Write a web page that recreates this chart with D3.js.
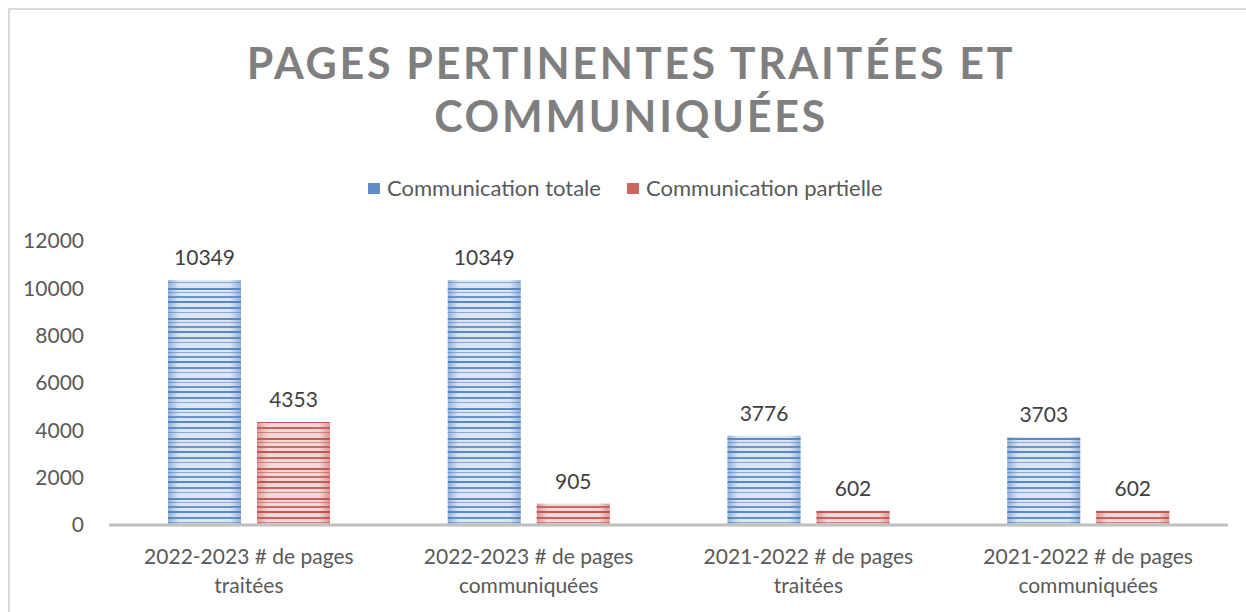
<!DOCTYPE html>
<html>
<head>
<meta charset="utf-8">
<script src="https://cdnjs.cloudflare.com/ajax/libs/d3/7.8.5/d3.min.js"></script>
<style>
  body { margin: 0; background: #fff; }
  svg { display: block; font-family: Lato, "Open Sans", sans-serif; }
</style>
</head>
<body>
<div id="chart"></div>
<script>
// data
var categories = [
    ["2022-2023 # de pages", "traitées"],
    ["2022-2023 # de pages", "communiquées"],
    ["2021-2022 # de pages", "traitées"],
    ["2021-2022 # de pages", "communiquées"]
];
var seriesNames = ["Communication totale", "Communication partielle"];
var totale = [10349, 10349, 3776, 3703];
var partielle = [4353, 905, 602, 602];
var yTicks = [0, 2000, 4000, 6000, 8000, 10000, 12000];
var titleLines = ["PAGES PERTINENTES TRAITÉES ET", "COMMUNIQUÉES"];

var width = 1246;
var height = 612;
var margin = { left: 109, right: 18, top: 241, bottom: 87 };

var svg = d3.select('#chart')
    .append('svg')
    .attr('width', width)
    .attr('height', height);

var defs = svg.append('defs');

// striped fills, darker at the bar edges
function makeFill(id, light, edge, stripe) {
    var g = defs.append('linearGradient')
        .attr('id', id + '-grad')
        .attr('x1', '0').attr('x2', '1').attr('y1', '0').attr('y2', '0');
    g.append('stop').attr('offset', '0%').attr('stop-color', edge);
    g.append('stop').attr('offset', '15%').attr('stop-color', light);
    g.append('stop').attr('offset', '85%').attr('stop-color', light);
    g.append('stop').attr('offset', '100%').attr('stop-color', edge);

    var p = defs.append('pattern')
        .attr('id', id + '-stripes')
        .attr('patternUnits', 'userSpaceOnUse')
        .attr('width', 10).attr('height', 30);
    [[0, 2, 0.95], [6, 2, 0.85], [11, 1, 0.6], [17, 2, 0.9], [21, 1, 0.6], [25, 2, 0.8]].forEach(function (s) {
        p.append('rect')
            .attr('x', 0).attr('y', s[0])
            .attr('width', 10).attr('height', s[1])
            .attr('fill', stripe)
            .attr('opacity', s[2]);
    });
}
makeFill('blue', '#dbe5f3', '#94b2da', '#4f81bd');
makeFill('red', '#f3d8d7', '#d99896', '#c0504d');

var colors = { "Communication totale": "blue", "Communication partielle": "red" };
var legendColors = { "Communication totale": "#5f8cc6", "Communication partielle": "#cc6663" };

// border
svg.append('rect')
    .attr('x', 9).attr('y', 9)
    .attr('width', width + 20).attr('height', height + 20)
    .attr('fill', 'none')
    .attr('stroke', '#d9d9d9')
    .attr('stroke-width', 2);

// title
svg.append('text')
    .attr('text-anchor', 'middle')
    .attr('fill', '#7f7f7f')
    .style('font-size', '43px')
    .style('font-weight', 'bold')
    .style('letter-spacing', '2.7px')
    .selectAll('tspan')
    .data(titleLines)
    .enter()
    .append('tspan')
    .attr('x', 631)
    .attr('y', (d, i) => 79 + i * 53)
    .text(d => d);

// legend
var legendX = [368, 627];
var legend = svg.selectAll('.legend')
    .data(seriesNames)
    .enter()
    .append('g')
    .attr('class', 'legend')
    .attr('transform', (d, i) => "translate(" + legendX[i] + ",183)");
legend.append('rect')
    .attr('width', 12).attr('height', 11)
    .attr('y', 0)
    .attr('fill', d => legendColors[d]);
legend.append('text')
    .attr('x', 19).attr('y', 13)
    .attr('fill', '#595959')
    .style('font-size', '22px')
    .text(d => d);

var plotW = width - margin.left - margin.right;
var plotH = height - margin.top - margin.bottom;

var g = svg.append('g')
    .attr("transform", "translate(" + margin.left + "," + margin.top + ")");

var x0 = d3.scaleBand()
    .domain(d3.range(categories.length))
    .range([0, plotW]);
var x1 = d3.scaleBand()
    .domain(seriesNames)
    .range([59, 221])
    .paddingInner(16 / 89);
var y = d3.scaleLinear()
    .domain([0, 12000])
    .range([plotH, 0]);

// y axis
var yAxis = d3.axisLeft(y).tickValues(yTicks).tickFormat(d3.format('d')).tickSize(0).tickPadding(25);
var gY = g.append('g').call(yAxis);
gY.select('.domain').remove();
gY.selectAll('text')
    .attr('fill', '#595959')
    .style('font-size', '21px')
    .style('font-family', 'Lato, sans-serif');

// bars
var rows = [];
for (var i = 0; i < categories.length; i++) {
    rows.push({ i: i, s: seriesNames[0], v: totale[i] });
    rows.push({ i: i, s: seriesNames[1], v: partielle[i] });
}

var bars = g.selectAll('.bar')
    .data(rows)
    .enter()
    .append('g')
    .attr('class', 'bar');
bars.append('rect')
    .attr('x', d => x0(d.i) + x1(d.s))
    .attr('y', d => y(d.v))
    .attr('width', x1.bandwidth())
    .attr('height', d => plotH - y(d.v))
    .attr('fill', d => "url(#" + colors[d.s] + "-grad)");
bars.append('rect')
    .attr('x', d => x0(d.i) + x1(d.s))
    .attr('y', d => y(d.v))
    .attr('width', x1.bandwidth())
    .attr('height', d => plotH - y(d.v))
    .attr('fill', d => "url(#" + colors[d.s] + "-stripes)");

// value labels
bars.append('text')
    .attr('x', d => x0(d.i) + x1(d.s) + x1.bandwidth() / 2)
    .attr('y', d => y(d.v) - 15)
    .attr('text-anchor', 'middle')
    .attr('fill', '#404040')
    .style('font-size', '21px')
    .text(d => d.v);

// baseline
g.append('line')
    .attr('x1', 0).attr('x2', plotW)
    .attr('y1', plotH).attr('y2', plotH)
    .attr('stroke', '#bfbfbf')
    .attr('stroke-width', 3);

// category labels
var catText = g.selectAll('.cat')
    .data(categories)
    .enter()
    .append('text')
    .attr('class', 'cat')
    .attr('text-anchor', 'middle')
    .attr('fill', '#595959')
    .style('font-size', '21px');
catText.selectAll('tspan')
    .data((d, i) => d.map(t => ({ t: t, i: i })))
    .enter()
    .append('tspan')
    .attr('x', d => x0(d.i) + x0.bandwidth() / 2)
    .attr('y', (d, j) => plotH + 39 + j * 29)
    .text(d => d.t);
</script>
</body>
</html>
